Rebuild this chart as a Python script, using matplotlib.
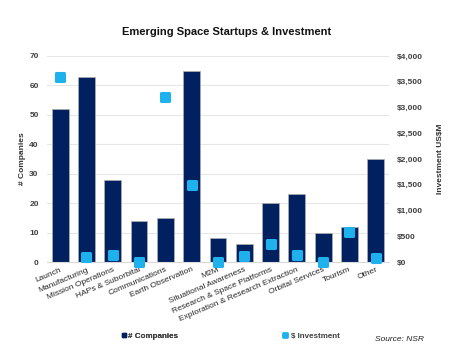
import matplotlib
matplotlib.use("Agg")
import matplotlib.pyplot as plt
from matplotlib.lines import Line2D
from matplotlib.markers import MarkerStyle
import numpy as np

plt.rcParams['font.family'] = ['Liberation Sans', 'DejaVu Sans']

categories = ["Launch", "Manufacturing", "Mission Operations", "HAPs & Suborbital",
              "Communications", "Earth Observation", "M2M", "Situational Awareness",
              "Research & Space Platforms", "Exploration & Research Extraction",
              "Orbital Services", "Tourism", "Other"]
companies = [52, 63, 28, 14, 15, 65, 8, 6, 20, 23, 10, 12, 35]
investment = [3600, 90, 140, 10, 3200, 1500, 5, 120, 355, 140, 5, 580, 80]
left_ticks = [0, 10, 20, 30, 40, 50, 60, 70]
right_ticks = [0, 500, 1000, 1500, 2000, 2500, 3000, 3500, 4000]

NAVY = "#002060"
BLUE = "#1EB1EC"
TXT = "#404040"

fig = plt.figure(figsize=(4.63, 3.56), dpi=100)
ax = fig.add_axes([0.1015, 0.264, 0.7385, 0.579])
x = np.arange(len(categories))
ax.bar(x, companies, width=0.64, color=NAVY, edgecolor="#B0B0B0", linewidth=0.5, zorder=2)
ax.set_xlim(-0.5, len(categories) - 0.5)
ax.set_ylim(0, 70)
ax.set_yticks(left_ticks)
ax.yaxis.grid(True, color="#E6E6E6", linewidth=0.8, zorder=0)
ax.set_axisbelow(True)
for s in ["top", "right", "left"]:
    ax.spines[s].set_visible(False)
ax.spines["bottom"].set_color("#D9D9D9")
ax.tick_params(axis="both", length=0, labelsize=6, labelcolor=TXT)
ax.tick_params(axis="y", pad=6)
ax.tick_params(axis="x", pad=3)
ax.set_xticks(x)
ax.set_xticklabels(categories, rotation=23, ha="right", rotation_mode="anchor",
                   fontsize=6, color="#262626")
for lab in ax.get_yticklabels():
    lab.set_fontweight("bold")
ax.set_ylabel("# Companies", fontsize=6, color="#333333", fontweight="bold", labelpad=2)

ax2 = ax.twinx()
ax2.set_ylim(0, 4000)
ax2.set_yticks(right_ticks)
ax2.set_yticklabels(["${:,}".format(v) for v in right_ticks], fontsize=6,
                    color=TXT, fontweight="bold")
ax2.tick_params(axis="y", length=0, pad=6)
for s in ["top", "right", "left", "bottom"]:
    ax2.spines[s].set_visible(False)
rsq = MarkerStyle("s", joinstyle="round")
ax2.plot(x, investment, linestyle="none", marker=rsq, markersize=6,
         markerfacecolor=BLUE, markeredgecolor=BLUE, markeredgewidth=2.2,
         zorder=3, clip_on=False)
ax2.set_ylabel("Investment US$M", fontsize=6, color="#333333", fontweight="bold", labelpad=10)

fig.text(0.49, 0.91, "Emerging Space Startups & Investment", ha="center", va="center",
         fontsize=8, fontweight="bold", color="#111111")

h1 = Line2D([], [], linestyle="none", marker="s", markersize=2.5, color=NAVY)
leg1 = fig.legend([h1], ["# Companies"], loc="center left", bbox_to_anchor=(0.248, 0.057),
                  frameon=False, handlelength=0.5, handletextpad=0.2,
                  prop={"weight": "bold", "size": 5.8})
for t in leg1.get_texts():
    t.set_color(TXT)
h2 = Line2D([], [], linestyle="none", marker=rsq, markersize=3.5, markeredgewidth=2,
            color=BLUE)
leg2 = fig.legend([h2], ["$ Investment"], loc="center left", bbox_to_anchor=(0.592, 0.057),
                  frameon=False, handlelength=0.8, handletextpad=0.35,
                  prop={"weight": "bold", "size": 5.8})
for t in leg2.get_texts():
    t.set_color(TXT)
fig.add_artist(leg1)

fig.text(0.81, 0.047, "Source: NSR", fontsize=6, style="italic", color="#222222",
         ha="left", va="center")

fig.savefig("out.png", dpi=100, facecolor="white")
